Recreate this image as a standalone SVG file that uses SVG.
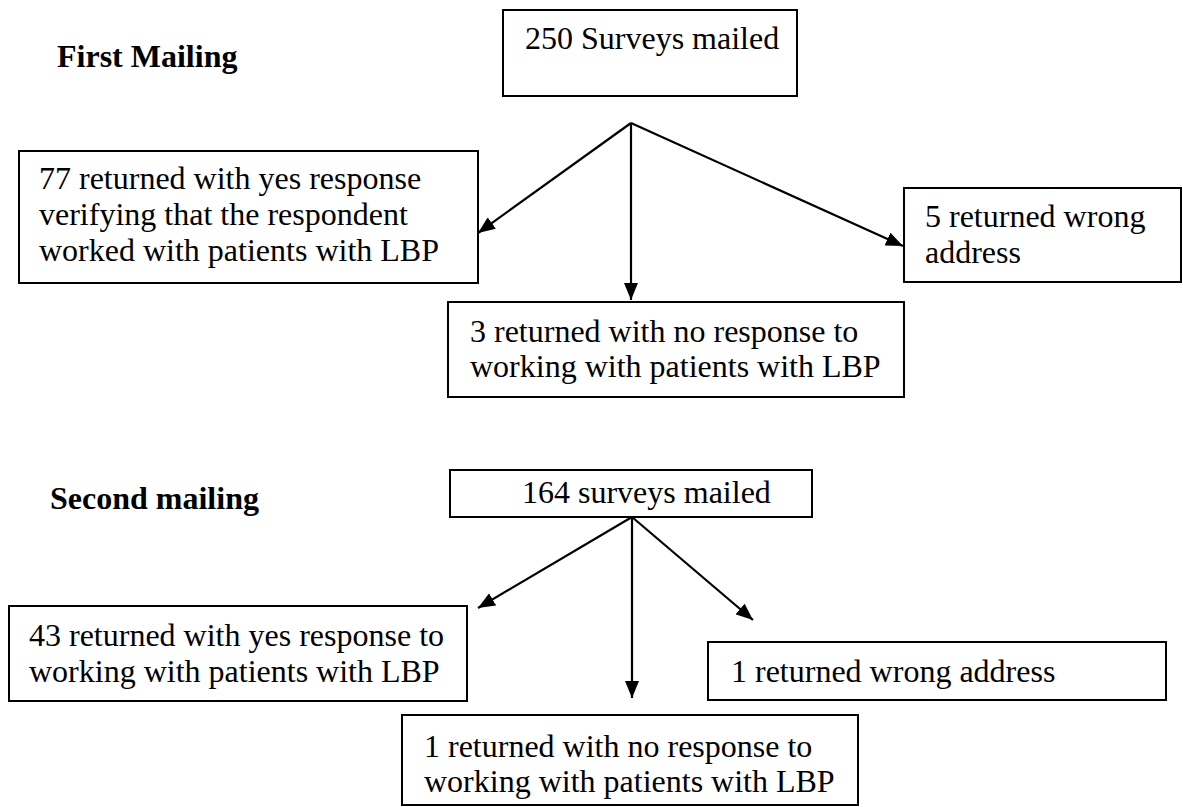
<svg xmlns="http://www.w3.org/2000/svg" width="1183" height="807" viewBox="0 0 1183 807">
<style>
.box{fill:#fff;stroke:#000;stroke-width:2}
.t{font-family:"Liberation Serif","Times New Roman",serif;font-size:32px;fill:#000}
.h{font-family:"Liberation Serif","Times New Roman",serif;font-size:32px;font-weight:bold;fill:#000}
.c{stroke:#000;stroke-width:2.2;fill:none;marker-end:url(#ah)}
</style>
<defs>
<marker id="ah" markerUnits="userSpaceOnUse" markerWidth="18" markerHeight="14" refX="17" refY="7" orient="auto">
<path d="M0,0 L17,7 L0,14 Z" fill="#000"/>
</marker>
</defs>
<rect width="1183" height="807" fill="#fff"/>
<text class="h" x="57" y="67">First Mailing</text>
<text class="h" x="50" y="509">Second mailing</text>
<g id="n250"><rect class="box" x="503" y="10" width="294" height="86"/><text class="t" x="525" y="49">250 Surveys mailed</text></g>
<g id="n77"><rect class="box" x="19" y="151" width="459" height="132"/><text class="t" x="39" y="189">77 returned with yes response</text><text class="t" x="39" y="225">verifying that the respondent</text><text class="t" x="39" y="261">worked with patients with LBP</text></g>
<g id="n5"><rect class="box" x="904" y="188" width="277" height="94"/><text class="t" x="925" y="227">5 returned wrong</text><text class="t" x="925" y="263">address</text></g>
<g id="n3"><rect class="box" x="448" y="302" width="456" height="95"/><text class="t" x="470" y="342">3 returned with no response to</text><text class="t" x="470" y="377">working with patients with LBP</text></g>
<g id="n164"><rect class="box" x="450" y="470" width="362" height="47"/><text class="t" x="522" y="503">164 surveys mailed</text></g>
<g id="n43"><rect class="box" x="9" y="606" width="458" height="95"/><text class="t" x="29" y="646">43 returned with yes response to</text><text class="t" x="29" y="682">working with patients with LBP</text></g>
<g id="n1w"><rect class="box" x="708" y="642" width="458" height="58"/><text class="t" x="731" y="682">1 returned wrong address</text></g>
<g id="n1n"><rect class="box" x="402" y="715" width="456" height="90"/><text class="t" x="424" y="757">1 returned with no response to</text><text class="t" x="424" y="792">working with patients with LBP</text></g>
<g id="connectors">
<line class="c" x1="631" y1="123" x2="478" y2="233"/>
<line class="c" x1="631" y1="123" x2="631" y2="300"/>
<line class="c" x1="631" y1="123" x2="903" y2="246"/>
<line class="c" x1="632" y1="517" x2="478" y2="608"/>
<line class="c" x1="632" y1="517" x2="632" y2="698"/>
<line class="c" x1="632" y1="517" x2="753" y2="620"/>
</g>
</svg>
